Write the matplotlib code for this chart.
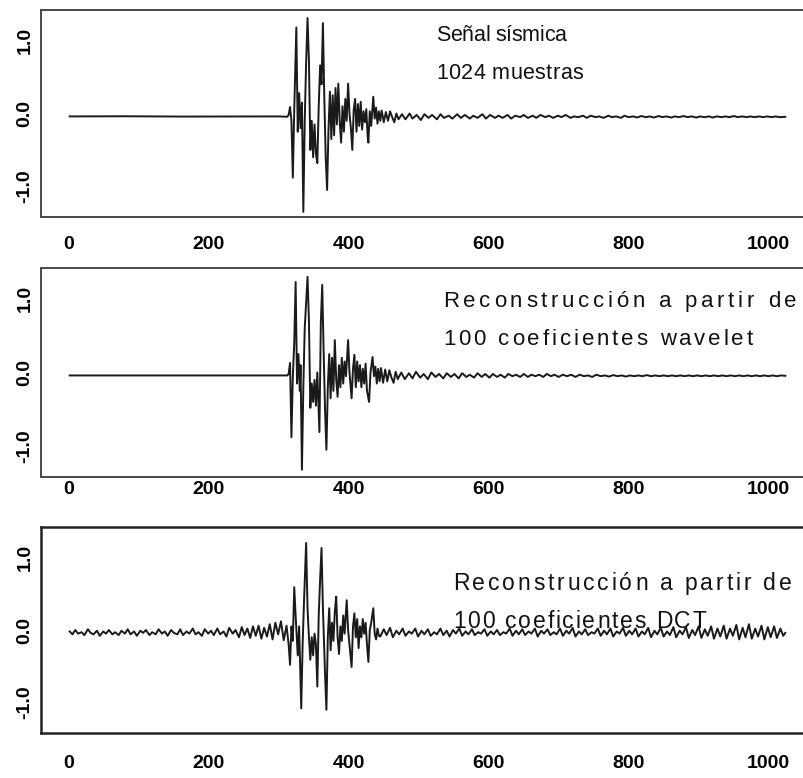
import matplotlib
matplotlib.use("Agg")
import matplotlib.pyplot as plt
from matplotlib import font_manager, ft2font

# ---------------- data (turning points) ----------------
# Panel 1: original seismic signal, 1024 samples  (sample index, amplitude)
sig_pre = [(1, -0.04), (80, -0.038), (160, -0.042), (240, -0.04), (300, -0.04), (312, -0.045)]
sig_burst = [(314, -0.02), (316, 0.09), (318, -0.10), (320, -0.88), (322, 0.05), (325, 1.18),
             (327, -0.25), (329, 0.28), (331, -0.20), (333, 0.15), (335, -1.35), (337, -0.10),
             (339, 0.70), (341, 1.31), (343, 0.73), (345, -0.50), (347, -0.10), (349, -0.60),
             (351, -0.15), (353, -0.55), (355, -0.68), (357, 0.10), (359, 0.66), (361, 0.40),
             (363, 1.24), (365, 0.20), (367, -0.60), (369, -1.05), (371, -0.20), (373, 0.30),
             (375, -0.35), (377, 0.25), (379, -0.30), (381, 0.35), (383, -0.15), (385, 0.41),
             (387, -0.10), (389, -0.40), (391, 0.10), (393, -0.25), (395, 0.20), (397, -0.10),
             (399, 0.41), (401, 0.00), (403, -0.20), (405, -0.50), (407, 0.05), (409, 0.20),
             (411, -0.25), (413, 0.13), (415, -0.17), (417, 0.16), (419, -0.22), (421, 0.03),
             (423, -0.12), (425, 0.06), (427, -0.32), (428, -0.40), (430, 0.03), (432, -0.17),
             (435, 0.23), (437, -0.07), (439, 0.08), (441, -0.14), (443, 0.03), (445, -0.10),
             (447, 0.04), (450, -0.12), (453, 0.02), (456, -0.10), (459, 0.03), (462, -0.05),
             (465, -0.12), (468, 0.00), (471, -0.08)]
sig_tail = [(476, -0.01), (481, -0.08), (487, 0.00), (491, -0.07), (497, -0.02), (503, -0.09),
            (508, -0.01), (514, -0.06), (519, -0.02), (526, -0.08), (531, -0.01), (536, -0.06),
            (543, -0.03), (548, -0.07), (555, -0.01), (560, -0.06), (566, -0.02), (573, -0.07),
            (578, -0.03), (584, -0.06), (591, -0.01), (596, -0.07), (602, -0.02), (609, -0.06),
            (614, -0.03), (620, -0.06), (627, -0.02), (632, -0.07), (638, -0.03), (645, -0.05),
            (650, -0.02), (656, -0.06), (663, -0.03), (668, -0.06), (674, -0.02), (681, -0.05),
            (686, -0.03), (692, -0.06), (699, -0.03), (704, -0.05), (710, -0.02), (717, -0.06),
            (722, -0.04), (728, -0.05), (735, -0.03), (740, -0.06), (746, -0.03), (753, -0.05),
            (758, -0.04), (764, -0.06), (771, -0.03), (776, -0.05), (782, -0.04), (789, -0.06),
            (794, -0.03), (800, -0.05), (807, -0.04), (812, -0.055), (818, -0.035), (825, -0.05),
            (830, -0.04), (836, -0.055), (843, -0.035), (848, -0.05), (854, -0.04), (861, -0.055),
            (866, -0.04), (872, -0.05), (879, -0.035), (884, -0.05), (890, -0.04), (897, -0.055),
            (902, -0.04), (908, -0.05), (915, -0.04), (920, -0.055), (926, -0.04), (933, -0.05),
            (938, -0.04), (944, -0.05), (951, -0.035), (956, -0.05), (962, -0.04), (969, -0.05),
            (974, -0.04), (980, -0.05), (987, -0.04), (992, -0.05), (998, -0.04), (1005, -0.05),
            (1010, -0.04), (1016, -0.05), (1024, -0.045)]

# Panel 2: reconstruction from 100 wavelet coefficients
wav_pre = [(1, -0.04), (100, -0.04), (200, -0.04), (300, -0.04), (312, -0.04)]
wav_burst = [(314, -0.02), (316, 0.13), (318, -0.88), (320, -0.05), (322, 0.40), (324, 1.23),
             (326, -0.15), (328, 0.25), (330, -0.25), (331, 0.10), (333, -1.32), (335, -0.20),
             (337, 0.60), (339, 0.95), (341, 1.30), (343, 0.71), (345, -0.48), (347, -0.15),
             (349, -0.40), (351, -0.10), (353, -0.45), (355, 0.00), (358, -0.81), (360, 0.67),
             (362, 1.19), (364, 0.30), (366, -0.50), (368, -1.05), (370, -0.20), (372, 0.25),
             (374, -0.35), (376, 0.20), (378, -0.25), (380, 0.44), (382, -0.10), (384, -0.33),
             (386, 0.10), (388, -0.20), (390, 0.20), (392, -0.15), (394, 0.15), (396, -0.05),
             (399, 0.44), (401, 0.00), (404, -0.35), (406, 0.05), (408, 0.24), (410, -0.20),
             (412, 0.15), (414, -0.12), (416, 0.10), (418, -0.20), (420, 0.05), (422, -0.15),
             (424, 0.12), (426, -0.25), (429, -0.40), (431, 0.00), (434, 0.21), (436, -0.05),
             (438, 0.08), (440, -0.15), (442, 0.05), (444, -0.12), (446, 0.06), (449, -0.14),
             (452, 0.04), (455, -0.12), (458, 0.03), (461, -0.07), (464, -0.14), (467, 0.01),
             (470, -0.09)]
wav_tail = [(475, 0.00), (480, -0.09), (486, -0.01), (491, -0.08), (496, 0.01), (502, -0.07),
            (507, -0.02), (513, -0.09), (518, 0.00), (524, -0.06), (529, -0.02), (535, -0.08),
            (540, -0.01), (546, -0.06), (551, -0.02), (557, -0.08), (562, -0.01), (568, -0.06),
            (573, -0.03), (579, -0.07), (584, -0.01), (590, -0.06), (595, -0.02), (601, -0.07),
            (606, -0.02), (612, -0.06), (617, -0.03), (623, -0.07), (628, -0.02), (634, -0.05),
            (639, -0.03), (645, -0.06), (650, -0.02), (656, -0.06), (661, -0.03), (667, -0.05),
            (672, -0.03), (678, -0.06), (683, -0.02), (689, -0.05), (694, -0.03), (700, -0.06),
            (706, -0.03), (712, -0.05), (718, -0.03), (724, -0.06), (730, -0.03), (736, -0.05),
            (742, -0.04), (748, -0.06), (754, -0.03), (760, -0.05), (766, -0.04), (772, -0.055),
            (778, -0.035), (784, -0.05), (790, -0.04), (796, -0.055), (802, -0.04), (808, -0.05),
            (814, -0.04), (820, -0.05), (826, -0.035), (832, -0.05), (838, -0.04), (844, -0.05),
            (850, -0.04), (856, -0.05), (862, -0.04), (868, -0.05), (874, -0.04), (880, -0.05),
            (886, -0.04), (892, -0.05), (898, -0.04), (904, -0.05), (910, -0.04), (916, -0.05),
            (922, -0.04), (928, -0.05), (934, -0.04), (940, -0.05), (946, -0.04), (952, -0.05),
            (958, -0.04), (964, -0.05), (970, -0.04), (976, -0.05), (982, -0.04), (988, -0.05),
            (994, -0.04), (1000, -0.05), (1006, -0.04), (1012, -0.05), (1018, -0.04), (1024, -0.045)]

# Panel 3: reconstruction from 100 DCT coefficients
dct_pre = [(1, -0.02), (5, -0.06), (9, 0.00), (13, -0.05), (18, -0.03), (22, -0.07), (27, 0.01),
           (31, -0.04), (35, -0.06), (40, -0.01), (44, -0.08), (49, -0.02), (53, -0.05), (57, 0.00),
           (62, -0.06), (66, -0.03), (71, -0.07), (75, -0.01), (80, -0.05), (84, 0.01), (88, -0.06),
           (93, -0.02), (97, -0.08), (102, -0.01), (106, -0.04), (110, 0.00), (115, -0.07),
           (119, -0.03), (124, -0.06), (128, 0.01), (133, -0.05), (137, -0.02), (141, -0.08),
           (146, 0.00), (150, -0.04), (155, -0.06), (159, 0.01), (163, -0.07), (168, -0.02),
           (172, -0.05), (177, 0.02), (181, -0.06), (185, -0.03), (190, -0.08), (194, 0.01),
           (199, -0.05), (203, -0.01), (207, -0.07), (212, 0.02), (216, -0.06), (221, -0.02),
           (225, -0.09), (229, 0.03), (234, -0.05), (238, 0.00), (243, -0.10), (247, 0.04),
           (251, -0.07), (255, 0.02), (259, -0.11), (263, 0.05), (267, -0.08), (271, 0.06),
           (275, -0.12), (279, 0.03), (283, -0.09), (287, 0.08), (291, -0.13), (295, 0.10),
           (299, -0.06), (303, 0.12), (307, -0.14), (311, 0.06)]
dct_burst = [(314, -0.20), (316, -0.48), (318, 0.05), (320, -0.15), (322, 0.59), (324, 0.20),
             (327, -0.35), (329, 0.05), (332, -1.08), (334, -0.20), (336, 0.40), (339, 1.20),
             (341, 0.30), (343, -0.10), (345, -0.41), (347, -0.10), (349, -0.35), (351, -0.05),
             (353, -0.20), (355, -0.78), (357, 0.20), (359, 0.70), (361, 1.13), (363, 0.30),
             (366, -0.60), (368, -1.10), (370, -0.10), (372, 0.30), (374, -0.28), (376, 0.10),
             (378, -0.15), (380, 0.25), (382, 0.46), (384, -0.10), (386, -0.33), (388, 0.05),
             (390, -0.15), (392, 0.20), (394, -0.05), (397, 0.41), (399, 0.00), (401, -0.20),
             (404, -0.51), (406, 0.05), (408, 0.23), (410, -0.10), (412, 0.15), (414, -0.25),
             (416, 0.05), (418, -0.10), (420, 0.15), (422, -0.05), (424, 0.10), (426, -0.20),
             (428, -0.44), (430, 0.00), (432, 0.10), (435, 0.30), (437, -0.05), (439, -0.13),
             (441, 0.02), (443, -0.08)]
dct_post = [(445, -0.09), (450, 0.01), (454, -0.07), (459, 0.03), (463, -0.10), (468, -0.01),
            (472, -0.06), (477, 0.02), (481, -0.08), (486, -0.02), (490, -0.05), (495, 0.02),
            (499, -0.09), (504, -0.01), (508, -0.06), (513, 0.01), (517, -0.08), (522, -0.03),
            (526, -0.06), (531, 0.02), (535, -0.07), (540, -0.01), (544, -0.09), (549, 0.00),
            (553, -0.05), (558, 0.02), (562, -0.08), (567, -0.02), (571, -0.06), (576, 0.01),
            (580, -0.07), (585, -0.03), (589, -0.05), (594, 0.01), (598, -0.08), (603, -0.02),
            (607, -0.06), (612, 0.00), (616, -0.07), (621, -0.03), (625, -0.05), (630, 0.02),
            (634, -0.08), (639, -0.01), (643, -0.06), (648, 0.01), (652, -0.07), (657, -0.02),
            (661, -0.05), (666, 0.02), (670, -0.09), (675, -0.01), (679, -0.05), (684, 0.01),
            (688, -0.07), (693, -0.03), (697, -0.06), (702, 0.02), (706, -0.08), (711, -0.01),
            (715, -0.05), (720, 0.03), (724, -0.09), (729, -0.02), (733, -0.06), (738, 0.01),
            (742, -0.07), (747, -0.03), (751, -0.05), (756, 0.02), (760, -0.08), (765, -0.01),
            (769, -0.06), (774, 0.02), (778, -0.09), (783, -0.02), (787, -0.05), (792, 0.03),
            (796, -0.08), (801, -0.01), (805, -0.06), (810, 0.02), (814, -0.09), (819, -0.02),
            (823, -0.06), (828, 0.03), (832, -0.10), (837, -0.01), (841, -0.06), (846, 0.03),
            (850, -0.09), (855, -0.02), (859, -0.07), (864, 0.04), (868, -0.10), (873, -0.01),
            (877, -0.06), (882, 0.04), (886, -0.11), (891, 0.00), (895, -0.07), (900, 0.05),
            (904, -0.11), (909, 0.01), (913, -0.08), (918, 0.05), (922, -0.12), (927, 0.02),
            (931, -0.09), (936, 0.06), (940, -0.12), (945, 0.02), (949, -0.08), (954, 0.07),
            (958, -0.13), (963, 0.03), (967, -0.10), (972, 0.08), (976, -0.12), (981, 0.02),
            (985, -0.09), (990, 0.06), (994, -0.13), (999, 0.04), (1003, -0.10), (1008, 0.05),
            (1012, -0.11), (1017, 0.02), (1021, -0.08), (1024, -0.04)]

x_ticks = [0, 200, 400, 600, 800, 1000]
y_ticks = [-1.0, 0.0, 1.0]
y_labels = ["-1.0", "0.0", "1.0"]

captions = [["Señal sísmica", "1024 muestras"],
            ["Reconstrucción a partir de", "100 coeficientes wavelet"],
            ["Reconstrucción a partir de", "100 coeficientes DCT"]]

series = [sig_pre + sig_burst + sig_tail,
          wav_pre + wav_burst + wav_tail,
          dct_pre + dct_burst + dct_post]

# ---------------- layout ----------------
W, H = 804, 778
fig = plt.figure(figsize=(W / 100, H / 100), dpi=100)
fig.patch.set_facecolor("white")

FONT = "Liberation Sans"

# (top px, bottom px, x-label pad pt, frame colour, frame width)
frames = [(10, 217, 13.5, "#4a4a4a", 1.4),
          (268, 477, 3.0, "#4a4a4a", 1.4),
          (527, 733, 15.5, "#222222", 1.8)]

for pts, (top, bot, xpad, fc, fw) in zip(series, frames):
    xs = [p[0] for p in pts]
    ys = [p[1] for p in pts]
    ax = fig.add_axes([41 / W, 1 - bot / H, (814 - 41) / W, (bot - top) / H])
    ax.plot(xs, ys, color="#1a1a1a", lw=1.4)
    ax.set_xlim(-40, 1065)
    ax.set_ylim(-1.42, 1.42)
    ax.set_xticks(x_ticks)
    ax.set_xticklabels([str(t) for t in x_ticks], fontsize=14, fontweight="bold", family=FONT)
    ax.set_yticks(y_ticks)
    ax.set_yticklabels(y_labels, fontsize=14, fontweight="bold", family=FONT,
                       rotation=90, va="center")
    ax.tick_params(axis="x", length=0, pad=xpad)
    ax.tick_params(axis="y", length=0, pad=5.5)
    for sp in ax.spines.values():
        sp.set_color(fc)
        sp.set_linewidth(fw)

# ---------------- captions with letter spacing fitted to the reference width ----------------
def spaced_text(x0, x1, y_px, s, size, family):
    fp = font_manager.FontProperties(family=family, size=size)
    f = ft2font.FT2Font(font_manager.findfont(fp))
    f.set_size(size, 100)
    adv = [f.load_char(ord(ch)).linearHoriAdvance / 65536 for ch in s]
    track = (x1 - x0 - sum(adv[:-1]) - adv[-1] * 0.9) / (len(s) - 1)
    track = max(track, -0.3)
    x = x0
    for ch, a in zip(s, adv):
        fig.text(x / W, 1 - y_px / H, ch, fontsize=size, family=family,
                 ha="left", va="baseline", color="#111111")
        x += a + track

# (x start, line1 end, line2 end, baseline1, baseline2, size)
cap_pos = [(436, 565, 582, 41, 79, 15.5),
           (443, 795, 752, 307, 345, 16.0),
           (453, 790, 705, 590, 628, 16.5)]
for lines, (cx, e1, e2, y1, y2, size) in zip(captions, cap_pos):
    spaced_text(cx, e1, y1, lines[0], size, FONT)
    spaced_text(cx, e2, y2, lines[1], size, FONT)

fig.savefig("out.png", dpi=100)
